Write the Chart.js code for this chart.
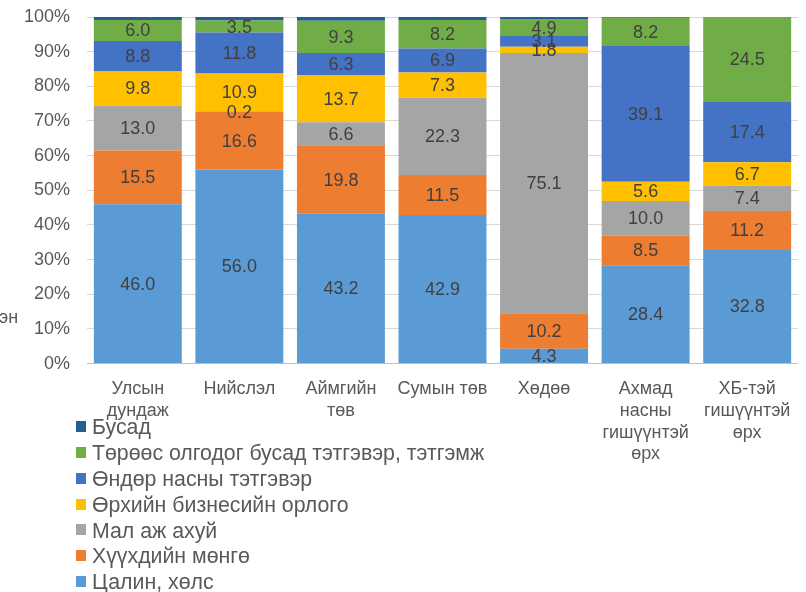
<!DOCTYPE html>
<html>
<head>
<meta charset="utf-8">
<script src="https://cdn.jsdelivr.net/npm/chart.js@4"></script>
<style>
  body { margin: 0; background: #fff; font-family: "Liberation Sans", Arial, sans-serif; }
  #wrap { position: relative; width: 806px; height: 592px; }
  #legend { position: absolute; left: 76px; top: 415px; font-size: 21.3px; color: #595959; }
  #legend div { height: 25.9px; line-height: 25.9px; white-space: nowrap; }
  #legend span { display: inline-block; width: 10px; height: 11px; margin-right: 6px; vertical-align: middle; position: relative; top: -2px; }
</style>
</head>
<body>
<div id="wrap">
  <canvas id="chart" width="806" height="592"></canvas>
  <div id="legend"></div>
</div>
<script>
const categories = [
    ["Улсын", "дундаж"],
    "Нийслэл",
    ["Аймгийн", "төв"],
    "Сумын төв",
    "Хөдөө",
    ["Ахмад", "насны", "гишүүнтэй", "өрх"],
    ["ХБ-тэй", "гишүүнтэй", "өрх"]
];

const seriesNames = [
    "Цалин, хөлс",
    "Хүүхдийн мөнгө",
    "Мал аж ахуй",
    "Өрхийн бизнесийн орлого",
    "Өндөр насны тэтгэвэр",
    "Төрөөс олгодог бусад тэтгэвэр, тэтгэмж",
    "Бусад"
];

const seriesColors = ["#5B9BD5", "#ED7D31", "#A5A5A5", "#FFC000", "#4472C4", "#70AD47", "#255E91"];

const wages      = [46.0, 56.0, 43.2, 42.9, 4.3, 28.4, 32.8];
const childMoney = [15.5, 16.6, 19.8, 11.5, 10.2, 8.5, 11.2];
const livestock  = [13.0, 0.2, 6.6, 22.3, 75.1, 10.0, 7.4];
const business   = [9.8, 10.9, 13.7, 7.3, 1.8, 5.6, 6.7];
const pension    = [8.8, 11.8, 6.3, 6.9, 3.1, 39.1, 17.4];
const otherState = [6.0, 3.5, 9.3, 8.2, 4.9, 8.2, 24.5];
const otherIncome = [0.9, 1.0, 1.1, 0.9, 0.6, 0.2, 0.0];

const seriesValues = [wages, childMoney, livestock, business, pension, otherState, otherIncome];

const yTicks = [0, 10, 20, 30, 40, 50, 60, 70, 80, 90, 100];

const FONT = '"Liberation Sans", Arial, sans-serif';

// values written in the middle of every segment (not for "Бусад")
const segmentLabels = {
    id: "segmentLabels",
    afterDatasetsDraw(chart) {
        const ctx = chart.ctx;
        ctx.save();
        ctx.font = "18px " + FONT;
        ctx.fillStyle = "#404040";
        ctx.textAlign = "center";
        ctx.textBaseline = "middle";
        chart.data.datasets.forEach((ds, i) => {
            if (i === seriesNames.length - 1) return;
            chart.getDatasetMeta(i).data.forEach((bar, j) => {
                const v = ds.data[j];
                const p = bar.getProps(["x", "y", "base"], true);
                ctx.fillText(v.toFixed(1), p.x, (p.y + p.base) / 2 + 1);
            });
        });
        ctx.restore();
    }
};

// left-over piece of the axis title that is cut off at the picture's edge
const cutTitle = {
    id: "cutTitle",
    afterDraw(chart) {
        const ctx = chart.ctx;
        ctx.save();
        ctx.font = "18px " + FONT;
        ctx.fillStyle = "#595959";
        ctx.textBaseline = "middle";
        ctx.fillText("эн", -1, 318);
        ctx.restore();
    }
};

const chart = new Chart(document.getElementById("chart"), {
    type: "bar",
    data: {
        labels: categories,
        datasets: seriesNames.map((name, i) => ({
            label: name,
            data: seriesValues[i],
            backgroundColor: seriesColors[i],
            borderWidth: 0,
            barPercentage: 0.866,
            categoryPercentage: 1
        }))
    },
    options: {
        responsive: false,
        animation: false,
        layout: { padding: { left: 21, right: 8, top: 17, bottom: 112 } },
        plugins: {
            legend: { display: false },
            tooltip: { enabled: false }
        },
        scales: {
            x: {
                stacked: true,
                grid: { display: false, drawTicks: false },
                border: { display: true, color: "#BFBFBF" },
                ticks: {
                    color: "#595959",
                    font: { family: FONT, size: 18 },
                    padding: 15,
                    maxRotation: 0,
                    autoSkip: false
                }
            },
            y: {
                stacked: true,
                min: 0,
                max: 100,
                afterBuildTicks: axis => { axis.ticks = yTicks.map(v => ({ value: v })); },
                grid: {
                    drawTicks: true,
                    tickLength: 14,
                    tickColor: "rgba(0,0,0,0)",
                    color: c => (c.tick && c.tick.value === 0) ? "#BFBFBF" : "#D9D9D9"
                },
                border: { display: false },
                ticks: {
                    color: "#595959",
                    font: { family: FONT, size: 18 },
                    padding: 3,
                    callback: v => v + "%"
                }
            }
        }
    },
    plugins: [segmentLabels, cutTitle]
});

// legend as a vertical list, last series first
const legend = document.getElementById("legend");
seriesNames.slice().reverse().forEach((name, k) => {
    const idx = seriesNames.length - 1 - k;
    const row = document.createElement("div");
    row.innerHTML = `<span style="background:${seriesColors[idx]}"></span>${name}`;
    legend.appendChild(row);
});
</script>
</body>
</html>
